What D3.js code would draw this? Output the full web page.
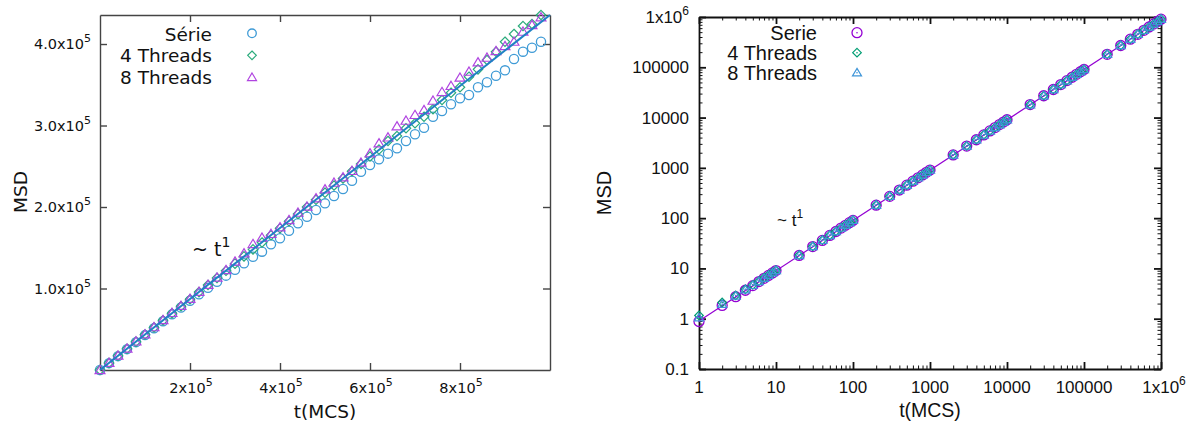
<!DOCTYPE html>
<html>
<head>
<meta charset="utf-8">
<script src="https://cdn.jsdelivr.net/npm/d3@7"></script>
<style>
  body { margin: 0; background: #fff; }
  .lin text { font-family: "DejaVu Sans", sans-serif; fill: #111; }
  .log text { font-family: "Liberation Sans", Arial, sans-serif; fill: #111; }
</style>
</head>
<body>
<svg id="chart" width="1195" height="424"></svg>
<script>
// ---- left panel (linear axes) ----
var tLin = [0, 20000, 40000, 60000, 80000, 100000, 120000, 140000, 160000, 180000,
  200000, 220000, 240000, 260000, 280000, 300000, 320000, 340000, 360000, 380000,
  400000, 420000, 440000, 460000, 480000, 500000, 520000, 540000, 560000, 580000,
  600000, 620000, 640000, 660000, 680000, 700000, 720000, 740000, 760000, 780000,
  800000, 820000, 840000, 860000, 880000, 900000, 920000, 940000, 960000, 980000];
var serieLin = [0, 8400, 17000, 25600, 34200, 42800, 51300, 59800, 68300, 76600,
  85000, 93000, 100800, 108200, 115800, 123000, 131000, 139000, 145200, 154200,
  161600, 170900, 180000, 188100, 196300, 204500, 213500, 222100, 232300, 243300,
  251500, 258500, 265500, 272000, 281000, 289200, 297300, 310800, 317800, 326000,
  333400, 337400, 346900, 353000, 361100, 367700, 381600, 390600, 395500, 402800];
var threads4Lin = [0, 8700, 17400, 26100, 34800, 43500, 52200, 60900, 69500, 78200,
  86900, 95600, 104300, 113000, 121800, 130500, 139400, 148000, 156500, 165300,
  174000, 182600, 191500, 200000, 208900, 217600, 226400, 235000, 243800, 252700,
  262000, 270500, 281000, 287100, 296600, 302700, 310800, 319900, 331300, 340200,
  346900, 359900, 368900, 380400, 390600, 402800, 412300, 422100, 424500, 435600];
var threads8Lin = [0, 8800, 17600, 26300, 35000, 43800, 52500, 61200, 70000, 78600,
  87300, 96000, 104600, 113500, 122600, 133000, 143200, 154600, 162300, 166900,
  175100, 184000, 193000, 200400, 210700, 221700, 229800, 236400, 244200, 254400,
  265900, 278200, 285300, 299000, 305900, 312900, 319000, 330400, 341100, 348500,
  358700, 366000, 377500, 383200, 391400, 397500, 402800, 415100, 423300, 432800];
var fitLinT = [0, 1000000];
var fitLinMSD = [0, 435600];
var xTicksLin = [200000, 400000, 600000, 800000];
var yTicksLin = [100000, 200000, 300000, 400000];
var legendLin = ["Série", "4 Threads", "8 Threads"];

// ---- right panel (log-log) ----
var tLog = [1, 2, 3, 4, 5, 6, 7, 8, 9, 10,
  20, 30, 40, 50, 60, 70, 80, 90, 100,
  200, 300, 400, 500, 600, 700, 800, 900, 1000,
  2000, 3000, 4000, 5000, 6000, 7000, 8000, 9000, 10000,
  20000, 30000, 40000, 50000, 60000, 70000, 80000, 90000, 100000,
  200000, 300000, 400000, 500000, 600000, 700000, 800000, 900000, 1000000];
var serieLog = [0.88, 1.84, 2.74, 3.68, 4.55, 5.47, 6.36, 7.25, 8.15, 9.06,
  18.1, 27.2, 36.1, 45.3, 54.2, 63.4, 72.1, 81.3, 90.2,
  181, 271, 362, 452, 543, 633, 724, 814, 905,
  1810, 2712, 3618, 4520, 5431, 6330, 7242, 8140, 9052,
  18100, 27150, 36180, 45240, 54290, 63300, 72380, 81450, 90460,
  180900, 271400, 361800, 452300, 542700, 633200, 723600, 814100, 904500];
var threads4Log = [1.16, 2.1, 2.9, 3.85, 4.7, 5.6, 6.5, 7.4, 8.3, 9.2,
  18.4, 27.5, 36.6, 45.7, 54.8, 63.9, 73.0, 82.0, 91.2,
  182.5, 273, 364, 455, 546, 637, 728, 819, 910,
  1822, 2730, 3640, 4551, 5460, 6372, 7280, 8190, 9100,
  18200, 27300, 36400, 45500, 54600, 63700, 72800, 81900, 91000,
  182000, 273000, 364000, 455000, 546000, 637000, 728000, 819000, 910000];
var threads8Log = [1.05, 1.95, 2.85, 3.78, 4.62, 5.52, 6.42, 7.32, 8.22, 9.12,
  18.2, 27.3, 36.3, 45.5, 54.5, 63.6, 72.5, 81.6, 90.6,
  182, 272, 363, 454, 544, 635, 726, 816, 907,
  1815, 2722, 3630, 4535, 5445, 6350, 7260, 8165, 9075,
  18150, 27220, 36300, 45370, 54450, 63500, 72600, 81680, 90750,
  181500, 272200, 363000, 453700, 544500, 635200, 726000, 816700, 907500];
var fitLogT = [1, 1000000];
var fitLogMSD = [0.9, 900000];
var xTicksLog = [1, 10, 100, 1000, 10000, 100000, 1000000];
var yTicksLog = [0.1, 1, 10, 100, 1000, 10000, 100000, 1000000];
var legendLog = ["Serie", "4 Threads", "8 Threads"];

var svg = d3.select("#chart");

// open point markers, gnuplot style
function marker(g, type, cx, cy, r, color, dot) {
  var p;
  if (type == "circle") {
    g.append("circle").attr("cx", cx).attr("cy", cy).attr("r", r)
      .attr("fill", "none").attr("stroke", color).attr("stroke-width", 1.3);
  } else if (type == "diamond") {
    p = [[cx, cy - r], [cx + r, cy], [cx, cy + r], [cx - r, cy]];
    g.append("path").attr("d", "M" + p.join("L") + "Z")
      .attr("fill", "none").attr("stroke", color).attr("stroke-width", 1.2);
  } else {
    p = [[cx, cy - r], [cx + r * 1.05, cy + r * 0.75], [cx - r * 1.05, cy + r * 0.75]];
    g.append("path").attr("d", "M" + p.join("L") + "Z")
      .attr("fill", "none").attr("stroke", color).attr("stroke-width", 1.2);
  }
  if (dot) {
    g.append("circle").attr("cx", cx).attr("cy", cy).attr("r", 0.8).attr("fill", color);
  }
}

// text with a superscript part
function supText(g, x, y, base, sup, anchor, size, supSize) {
  var t = g.append("text").attr("x", x).attr("y", y)
    .attr("text-anchor", anchor).attr("font-size", size);
  t.append("tspan").text(base);
  if (sup) {
    t.append("tspan").attr("dy", -size * 0.45).attr("font-size", supSize).text(sup);
  }
  return t;
}

// ================= LEFT =================
var L = svg.append("g").attr("class", "lin");
var xL = d3.scaleLinear().domain([0, 1000000]).range([100, 550]);
var yL = d3.scaleLinear().domain([0, 435600]).range([370, 15]);
var frameL = "#444";

function styleAxis(sel, color, w) {
  sel.selectAll("path,line").attr("stroke", color).attr("stroke-width", w);
  sel.selectAll("text").remove();
}
L.append("g").attr("transform", "translate(0,370)")
  .call(d3.axisBottom(xL).tickValues(xTicksLin).tickSize(-7).tickSizeOuter(0))
  .call(styleAxis, frameL, 1.4);
L.append("g").attr("transform", "translate(0,15)")
  .call(d3.axisTop(xL).tickValues(xTicksLin).tickSize(-7).tickSizeOuter(0))
  .call(styleAxis, frameL, 1.4);
L.append("g").attr("transform", "translate(100,0)")
  .call(d3.axisLeft(yL).tickValues(yTicksLin).tickSize(-7).tickSizeOuter(0))
  .call(styleAxis, frameL, 1.4);
L.append("g").attr("transform", "translate(550,0)")
  .call(d3.axisRight(yL).tickValues(yTicksLin).tickSize(-7).tickSizeOuter(0))
  .call(styleAxis, frameL, 1.4);

xTicksLin.forEach(function (v) {
  supText(L, xL(v) + 1, 393, (v / 100000) + "x10", "5", "middle", 14.5, 11);
});
yTicksLin.forEach(function (v) {
  supText(L, 91, yL(v) + 5, (v / 100000).toFixed(1) + "x10", "5", "end", 14.5, 11);
});

// points
var colLin = ["#3f9bd6", "#2bab7c", "#b044e0"];
var typesLin = ["circle", "diamond", "triangle"];
[serieLin, threads4Lin, threads8Lin].forEach(function (s, k) {
  var g = L.append("g");
  s.forEach(function (v, i) {
    marker(g, typesLin[k], xL(tLin[i]), yL(v), typesLin[k] == "circle" ? 4.6 : 4.7, colLin[k], false);
  });
});

// ~t^1 fit
L.append("path")
  .attr("d", d3.line().x(function (d, i) { return xL(fitLinT[i]); })
    .y(function (d) { return yL(d); })(fitLinMSD))
  .attr("fill", "none").attr("stroke", "#1f82c4").attr("stroke-width", 2);

supText(L, 192, 256, "~ t", "1", "start", 19, 14);

legendLin.forEach(function (name, k) {
  L.append("text").attr("x", 212).attr("y", 40.5 + k * 21.5)
    .attr("text-anchor", "end").attr("font-size", 18.5).text(name);
  marker(L, typesLin[k], 252, 33.3 + k * 22, 4.3, colLin[k], false);
});

L.append("text").attr("x", 325).attr("y", 418).attr("text-anchor", "middle")
  .attr("font-size", 18.5).text("t(MCS)");
L.append("text").attr("transform", "translate(27,192) rotate(-90)")
  .attr("text-anchor", "middle").attr("font-size", 18.5).text("MSD");

// ================= RIGHT =================
var R = svg.append("g").attr("class", "log");
var xR = d3.scaleLog().domain([1, 1000000]).range([699, 1161]);
var yR = d3.scaleLog().domain([0.1, 1000000]).range([369, 17]);
var frameR = "#111";

var minorX = xR.ticks().filter(function (v) { return xTicksLog.indexOf(v) < 0; });
var minorY = yR.ticks().filter(function (v) { return yTicksLog.indexOf(v) < 0; });

function logAxis(axisFn, scale, major, minor, tr) {
  var g = R.append("g").attr("transform", tr);
  g.call(axisFn(scale).tickValues(major).tickSize(-7).tickSizeOuter(0))
    .call(styleAxis, frameR, 1.8);
  var m = R.append("g").attr("transform", tr);
  m.call(axisFn(scale).tickValues(minor).tickSize(-3.5).tickSizeOuter(0))
    .call(styleAxis, frameR, 1);
  m.select(".domain").remove();
}
logAxis(d3.axisBottom, xR, xTicksLog, minorX, "translate(0,369)");
logAxis(d3.axisTop, xR, xTicksLog, minorX, "translate(0,17)");
logAxis(d3.axisLeft, yR, yTicksLog, minorY, "translate(699,0)");
logAxis(d3.axisRight, yR, yTicksLog, minorY, "translate(1161,0)");

xTicksLog.forEach(function (v) {
  if (v == 1000000) supText(R, xR(v) + 3, 393, "1x10", "6", "middle", 17, 12);
  else supText(R, xR(v), 393, String(v), null, "middle", 17, 12);
});
yTicksLog.forEach(function (v) {
  if (v == 1000000) supText(R, 689, yR(v) + 6, "1x10", "6", "end", 17, 12);
  else supText(R, 689, yR(v) + 6, String(v), null, "end", 17, 12);
});

var colLog = ["#9400d3", "#009e73", "#3f95d8"];
var typesLog = ["circle", "diamond", "triangle"];

R.append("path")
  .attr("d", d3.line().x(function (d, i) { return xR(fitLogT[i]); })
    .y(function (d) { return yR(d); })(fitLogMSD))
  .attr("fill", "none").attr("stroke", "#9400d3").attr("stroke-width", 1.2);

[serieLog, threads4Log, threads8Log].forEach(function (s, k) {
  var g = R.append("g");
  s.forEach(function (v, i) {
    marker(g, typesLog[k], xR(tLog[i]), yR(v), typesLog[k] == "circle" ? 5 : 4.3, colLog[k], true);
  });
});

supText(R, 777, 226, "~ t", "1", "start", 17, 12);

legendLog.forEach(function (name, k) {
  R.append("text").attr("x", 817).attr("y", 39.5 + k * 20)
    .attr("text-anchor", "end").attr("font-size", 20).text(name);
  marker(R, typesLog[k], 857, 32.7 + k * 20, k == 0 ? 5 : 4.3, colLog[k], true);
});

R.append("text").attr("x", 930).attr("y", 417).attr("text-anchor", "middle")
  .attr("font-size", 19.5).text("t(MCS)");
R.append("text").attr("transform", "translate(611,193) rotate(-90)")
  .attr("text-anchor", "middle").attr("font-size", 20).text("MSD");
</script>
</body>
</html>
